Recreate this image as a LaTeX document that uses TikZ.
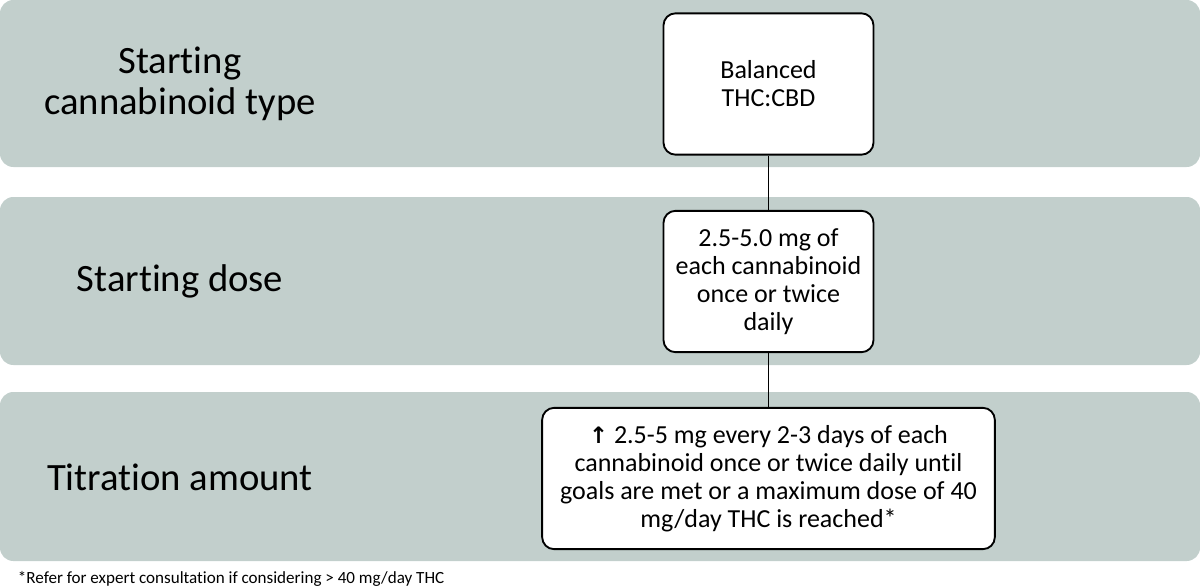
\documentclass[tikz,border=0pt]{standalone}
\usepackage{fontspec}
\setmainfont[Ligatures=NoCommon]{Carlito}
\newfontfamily\symfont{DejaVu Sans}
\definecolor{bandgray}{HTML}{C2CFCC}
\begin{document}
\begin{tikzpicture}[x=0.75pt,y=-0.75pt,line width=1.4pt,
	band/.style={fill=bandgray,rounded corners=10pt},
	stepbox/.style={draw=black,fill=white,rounded corners=9pt,align=center,inner sep=2pt,
		font=\fontsize{19.5}{21}\selectfont},
	rowlabel/.style={align=center,font=\fontsize{29}{31}\selectfont}]
	\useasboundingbox (0,0) rectangle (1200,586);
	% background bands
	\fill[band] (0,0) rectangle (1200,167);
	\fill[band] (0,197) rectangle (1200,365);
	\fill[band] (0,392) rectangle (1200,561);
	% row labels
	\node[rowlabel] (typelab) at (180,84) {Starting\\cannabinoid type};
	\node[rowlabel] (doselab) at (180,281) {Starting dose};
	\node[rowlabel] (titrlab) at (180,477) {Titration amount};
	% boxes
	\node[stepbox,minimum width=157.5pt,minimum height=106pt] (type) at (768.5,84) {Balanced\\THC:CBD};
	\node[stepbox,minimum width=157.5pt,minimum height=106pt] (dose) at (768.5,281.5) {2.5-5.0 mg of\\each cannabinoid\\once or twice\\daily};
	\node[stepbox,minimum width=339.5pt,minimum height=106pt] (titr) at (768.5,478.5) {{\symfont\bfseries\fontsize{17}{21}\selectfont ↑} 2.5-5 mg every 2-3 days of each\\cannabinoid once or twice daily until\\goals are met or a maximum dose of 40\\mg/day THC is reached*};
	\draw (type) -- (dose);
	\draw (dose) -- (titr);
	% footnote
	\node[anchor=base west,inner sep=0pt,font=\fontsize{12.8}{14}\selectfont] (note) at (17,583) {*Refer for expert consultation if considering > 40 mg/day THC};
\end{tikzpicture}
\end{document}
